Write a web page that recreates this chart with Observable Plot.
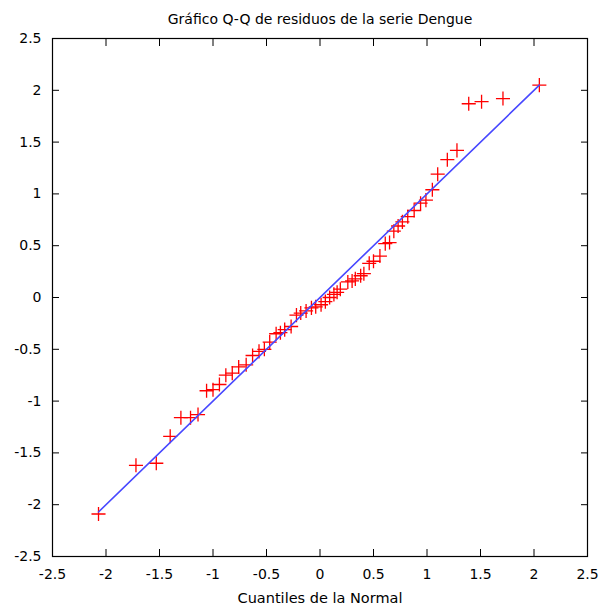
<!DOCTYPE html>
<html><head><meta charset="utf-8">
<script src="https://cdn.jsdelivr.net/npm/d3@7"></script>
<script src="https://cdn.jsdelivr.net/npm/@observablehq/plot@0.6"></script>
<style>body{margin:0;background:#fff}</style>
</head><body><div id="chart"></div>
<script>
const title = "Gráfico Q-Q de residuos de la serie Dengue";
const xLabel = "Cuantiles de la Normal";
const normalQuantiles = [-2.07,-1.72,-1.53,-1.40,-1.30,-1.21,-1.14,-1.06,-1.00,-0.94,-0.88,-0.82,-0.76,-0.69,-0.63,-0.57,-0.52,-0.47,-0.41,-0.37,-0.33,-0.27,-0.22,-0.18,-0.13,-0.08,-0.04,0.01,0.05,0.09,0.13,0.16,0.19,0.26,0.30,0.33,0.38,0.41,0.46,0.50,0.56,0.61,0.65,0.69,0.73,0.77,0.82,0.88,0.94,0.99,1.05,1.10,1.19,1.28,1.39,1.51,1.71,2.05];
const residuals = [-2.09,-1.62,-1.60,-1.34,-1.16,-1.16,-1.13,-0.90,-0.89,-0.84,-0.75,-0.73,-0.67,-0.65,-0.56,-0.52,-0.50,-0.43,-0.35,-0.34,-0.31,-0.28,-0.17,-0.15,-0.13,-0.10,-0.09,-0.07,-0.04,0.00,0.03,0.05,0.08,0.15,0.16,0.18,0.21,0.23,0.33,0.35,0.40,0.52,0.53,0.64,0.69,0.73,0.78,0.84,0.91,0.94,1.04,1.19,1.33,1.42,1.87,1.89,1.92,2.05];
const refX = [-2.07, 2.05];
const refY = [-2.07, 2.05];
const tickValues = [-2.5,-2,-1.5,-1,-0.5,0,0.5,1,1.5,2,2.5];
const tickLabels = ["-2.5","-2","-1.5","-1","-0.5","0","0.5","1","1.5","2","2.5"];

const pts = normalQuantiles.map((x, i) => ({x, y: residuals[i]}));
const ref = refX.map((x, i) => ({x, y: refY[i]}));
const fmt = d => tickLabels[tickValues.indexOf(d)];
const none = () => null;

const chart = Plot.plot({
  width: 603, height: 609,
  marginLeft: 52, marginRight: 16, marginTop: 38, marginBottom: 53,
  style: {fontFamily: "'DejaVu Sans', Verdana, sans-serif", fontSize: "14px", color: "#000", background: "#fff"},
  x: {domain: [-2.5, 2.5]},
  y: {domain: [-2.5, 2.5]},
  marks: [
    Plot.axisX(tickValues, {anchor: "bottom", tickSize: 0, tickPadding: 13, tickFormat: fmt, label: null, fontSize: 14}),
    Plot.axisY(tickValues, {anchor: "left", tickSize: 0, tickPadding: 11, tickFormat: fmt, label: null, fontSize: 14}),
    Plot.axisX(tickValues, {anchor: "bottom", tickSize: -7, tickFormat: none, text: null, label: null}),
    Plot.axisX(tickValues, {anchor: "top", tickSize: -7, tickFormat: none, text: null, label: null}),
    Plot.axisY(tickValues, {anchor: "left", tickSize: -7, tickFormat: none, text: null, label: null}),
    Plot.axisY(tickValues, {anchor: "right", tickSize: -7, tickFormat: none, text: null, label: null}),
    Plot.frame({stroke: "#000", strokeWidth: 1.2}),
    Plot.dot(pts, {x: "x", y: "y", symbol: "plus", r: 4.6, stroke: "#ff0000", strokeWidth: 1.3}),
    Plot.line(ref, {x: "x", y: "y", stroke: "#4848ff", strokeWidth: 1.6}),
    Plot.text([title], {frameAnchor: "top", dy: -24, fontSize: 14}),
    Plot.text([xLabel], {frameAnchor: "bottom", dy: 46, fontSize: 14.5})
  ]
});
document.getElementById("chart").appendChild(chart);
</script>
</body></html>
